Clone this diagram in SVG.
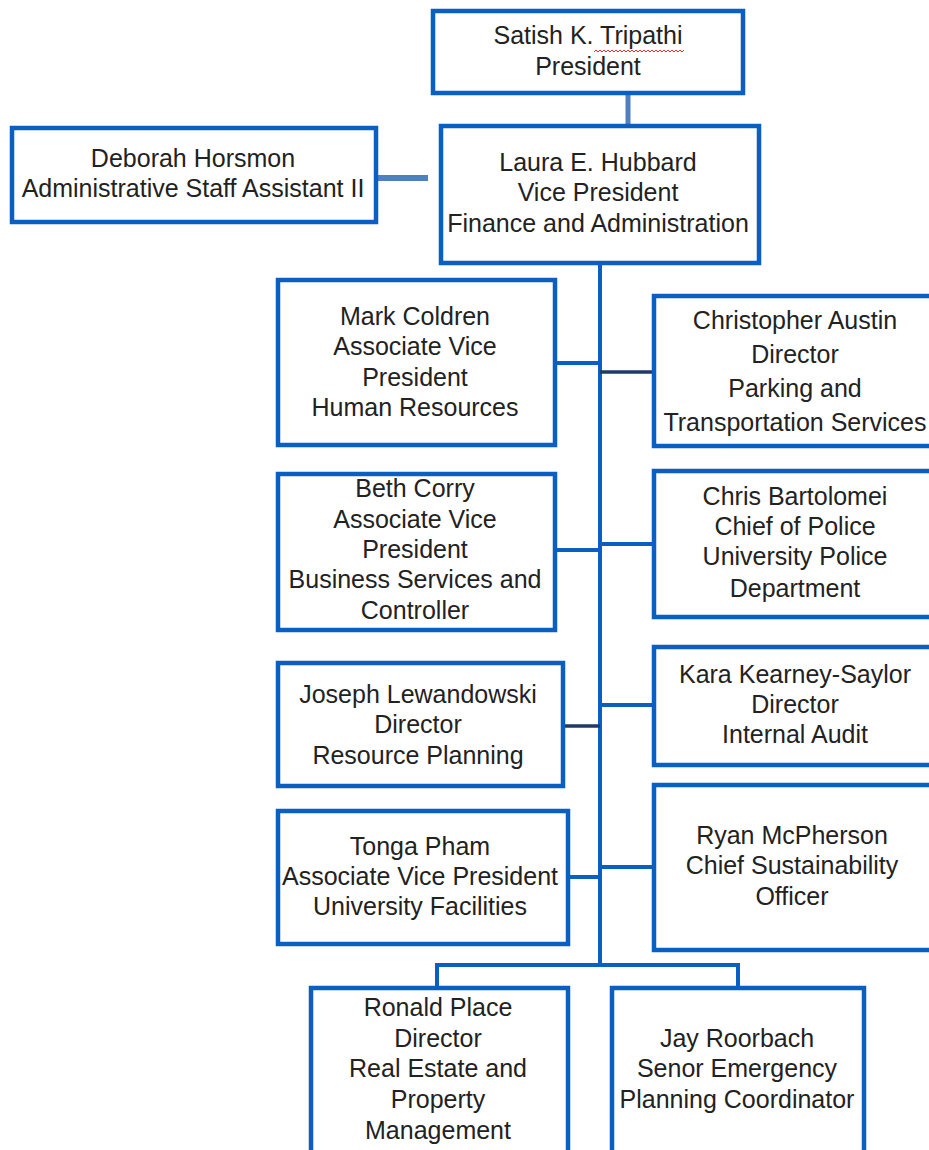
<svg xmlns="http://www.w3.org/2000/svg" width="929" height="1150" viewBox="0 0 929 1150">
<style>
.box{fill:#fff;stroke:#0a5fc2;stroke-width:4.5}
.t{font-family:"Liberation Sans",Arial,sans-serif;font-size:25px;fill:#222;text-anchor:middle}
.ln{stroke:#0a5fc2;stroke-width:4;fill:none}
.lt{stroke:#4f7fbe;fill:none}
.dk{stroke:#1f3a66;stroke-width:3.5;fill:none}
</style>
<rect width="929" height="1150" fill="#fff"/>
<g id="connectors">
<line class="lt" x1="628" y1="93" x2="628" y2="127" stroke-width="5"/>
<line class="lt" x1="376" y1="178" x2="428" y2="178" stroke-width="6"/>
<line class="ln" x1="600" y1="263" x2="600" y2="965"/>
<line class="ln" x1="555" y1="363" x2="600" y2="363"/>
<line class="dk" x1="600" y1="372" x2="653" y2="372"/>
<line class="ln" x1="555" y1="550" x2="600" y2="550"/>
<line class="ln" x1="600" y1="544" x2="653" y2="544"/>
<line class="dk" x1="563" y1="726" x2="600" y2="726"/>
<line class="ln" x1="600" y1="705" x2="653" y2="705"/>
<line class="ln" x1="568" y1="877" x2="600" y2="877"/>
<line class="ln" x1="600" y1="867" x2="653" y2="867"/>
<polyline class="ln" points="437,988 437,965 738,965 738,988"/>
</g>
<g id="president">
<rect class="box" x="433" y="11" width="310" height="82"/>
<text class="t" x="588" y="44">Satish K. Tripathi</text>
<text class="t" x="588" y="75">President</text>
<polyline points="594,52 596,50 598,52 600,50 602,52 604,50 606,52 608,50 610,52 612,50 614,52 616,50 618,52 620,50 622,52 624,50 626,52 628,50 630,52 632,50 634,52 636,50 638,52 640,50 642,52 644,50 646,52 648,50 650,52 652,50 654,52 656,50 658,52 660,50 662,52 664,50 666,52 668,50 670,52 672,50 674,52 676,50 678,52 680,50 682,52 684,50" fill="none" stroke="#e03030" stroke-width="1"/>
</g>
<g id="deborah">
<rect class="box" x="12" y="128" width="364" height="94"/>
<text class="t" x="193" y="167">Deborah Horsmon</text>
<text class="t" x="193" y="197">Administrative Staff Assistant II</text>
</g>
<g id="vp">
<rect class="box" x="441" y="126" width="318" height="137"/>
<text class="t" x="598" y="171">Laura E. Hubbard</text>
<text class="t" x="598" y="201">Vice President</text>
<text class="t" x="598" y="232">Finance and Administration</text>
</g>
<g id="mark">
<rect class="box" x="278" y="280" width="277" height="165"/>
<text class="t" x="415" y="325">Mark Coldren</text>
<text class="t" x="415" y="355">Associate Vice</text>
<text class="t" x="415" y="386">President</text>
<text class="t" x="415" y="416">Human Resources</text>
</g>
<g id="christopher">
<rect class="box" x="654" y="296" width="290" height="150"/>
<text class="t" x="795" y="329">Christopher Austin</text>
<text class="t" x="795" y="363">Director</text>
<text class="t" x="795" y="397">Parking and</text>
<text class="t" x="795" y="431">Transportation Services</text>
</g>
<g id="beth">
<rect class="box" x="278" y="474" width="277" height="156"/>
<text class="t" x="415" y="497">Beth Corry</text>
<text class="t" x="415" y="528">Associate Vice</text>
<text class="t" x="415" y="558">President</text>
<text class="t" x="415" y="588">Business Services and</text>
<text class="t" x="415" y="619">Controller</text>
</g>
<g id="bartolomei">
<rect class="box" x="654" y="471" width="290" height="146"/>
<text class="t" x="795" y="505">Chris Bartolomei</text>
<text class="t" x="795" y="535">Chief of Police</text>
<text class="t" x="795" y="565">University Police</text>
<text class="t" x="795" y="597">Department</text>
</g>
<g id="joseph">
<rect class="box" x="278" y="663" width="285" height="123"/>
<text class="t" x="418" y="703">Joseph Lewandowski</text>
<text class="t" x="418" y="733">Director</text>
<text class="t" x="418" y="764">Resource Planning</text>
</g>
<g id="kara">
<rect class="box" x="654" y="647" width="290" height="118"/>
<text class="t" x="795" y="683">Kara Kearney-Saylor</text>
<text class="t" x="795" y="713">Director</text>
<text class="t" x="795" y="743">Internal Audit</text>
</g>
<g id="tonga">
<rect class="box" x="278" y="811" width="290" height="133"/>
<text class="t" x="420" y="855">Tonga Pham</text>
<text class="t" x="420" y="885">Associate Vice President</text>
<text class="t" x="420" y="915">University Facilities</text>
</g>
<g id="ryan">
<rect class="box" x="654" y="785" width="290" height="165"/>
<text class="t" x="792" y="844">Ryan McPherson</text>
<text class="t" x="792" y="874">Chief Sustainability</text>
<text class="t" x="792" y="905">Officer</text>
</g>
<g id="ronald">
<rect class="box" x="311" y="988" width="257" height="180"/>
<text class="t" x="438" y="1016">Ronald Place</text>
<text class="t" x="438" y="1047">Director</text>
<text class="t" x="438" y="1077">Real Estate and</text>
<text class="t" x="438" y="1108">Property</text>
<text class="t" x="438" y="1139">Management</text>
</g>
<g id="jay">
<rect class="box" x="612" y="988" width="252" height="180"/>
<text class="t" x="737" y="1047">Jay Roorbach</text>
<text class="t" x="737" y="1077">Senor Emergency</text>
<text class="t" x="737" y="1108">Planning Coordinator</text>
</g>
</svg>
